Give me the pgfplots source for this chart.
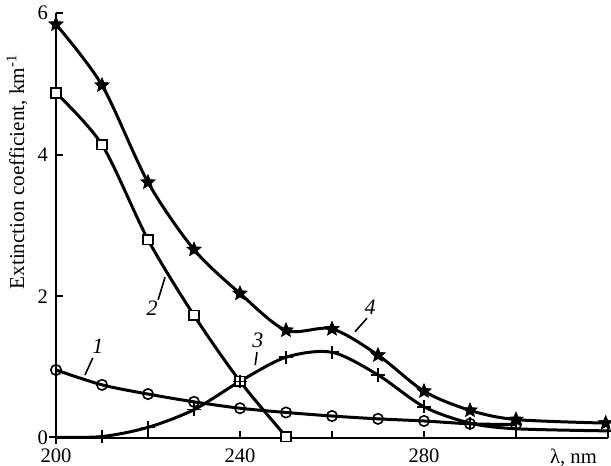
\documentclass[border=0pt]{standalone}
\usepackage{fontspec}
\setmainfont{Liberation Serif}
\usepackage{pgfplots}
\pgfplotsset{compat=1.18}
\pgfdeclareplotmark{fstar}{%
  \pgfpathmoveto{\pgfpointpolar{90}{\pgfplotmarksize}}%
  \pgfpathlineto{\pgfpointpolar{126}{0.45\pgfplotmarksize}}%
  \pgfpathlineto{\pgfpointpolar{162}{\pgfplotmarksize}}%
  \pgfpathlineto{\pgfpointpolar{198}{0.45\pgfplotmarksize}}%
  \pgfpathlineto{\pgfpointpolar{234}{\pgfplotmarksize}}%
  \pgfpathlineto{\pgfpointpolar{270}{0.45\pgfplotmarksize}}%
  \pgfpathlineto{\pgfpointpolar{306}{\pgfplotmarksize}}%
  \pgfpathlineto{\pgfpointpolar{342}{0.45\pgfplotmarksize}}%
  \pgfpathlineto{\pgfpointpolar{18}{\pgfplotmarksize}}%
  \pgfpathlineto{\pgfpointpolar{54}{0.45\pgfplotmarksize}}%
  \pgfpathclose
  \pgfusepathqfillstroke}
\begin{document}
\fontsize{10}{12}\selectfont
\begin{tikzpicture}
\begin{axis}[
 scale only axis, width=276pt, height=212.5pt,
 xmin=200, xmax=320, ymin=0, ymax=6,
 axis x line=bottom, axis y line=left,
 axis line style={-, line width=1.1pt},
 tick align=inside, major tick length=3.5pt,
 tick style={line width=1.1pt, black},
 xtick={200,220,...,320}, xticklabels={200,,240,,280,,},
 ytick={0,2,4,6},
 clip=false,
 /pgf/number format/assume math mode=true,
 tick label style={font=\fontsize{10.3}{12}\selectfont},
 xticklabel style={yshift=-2pt},
 yticklabel style={xshift=-0.5pt},
 every axis plot/.append style={line width=1.5pt, black, smooth},
]
\coordinate (sw) at (rel axis cs:0,0);
\coordinate (ne) at (rel axis cs:1,1);
% 1: circles
\addplot[mark=o, mark size=2.6pt, mark options={fill=white, line width=0.8pt}] coordinates {
(200,0.96) (210,0.75) (220,0.62) (230,0.51) (240,0.42) (250,0.36) (260,0.31) (270,0.27) (280,0.24) (290,0.20) (300,0.19)};
% 2: squares
\addplot[mark=square*, mark size=2.4pt, mark options={fill=white, line width=0.8pt}] coordinates {
(200,4.87) (210,4.14) (220,2.80) (230,1.73) (240,0.80) (250,0.02)};
% 3: plus
\addplot[mark=+, mark size=3.3pt, mark options={line width=0.8pt}] coordinates {
(200,0.01) (210,0.02) (220,0.15) (230,0.40) (240,0.80) (250,1.14) (260,1.21) (270,0.89) (280,0.44) (290,0.21) (300,0.13) (320,0.10)};
% 4: stars
\addplot[mark=fstar, mark size=3.8pt, mark options={line width=0.3pt, fill=black}] coordinates {
(200,5.84) (210,4.98) (220,3.61) (230,2.66) (240,2.04) (250,1.52) (260,1.54) (270,1.17) (280,0.66) (290,0.39) (300,0.26) (319.5,0.21)};
% curve labels
\draw[line width=0.8pt] (axis cs:206.3,0.89) -- (axis cs:208.0,1.13);
\draw[line width=0.8pt] (axis cs:222.2,1.95) -- (axis cs:223.7,2.27);
\draw[line width=0.8pt] (axis cs:243.3,1.03) -- (axis cs:243.7,1.21);
\draw[line width=0.8pt] (axis cs:265.0,1.50) -- (axis cs:267.6,1.69);
\node[font=\itshape\fontsize{11}{12}\selectfont] at (axis cs:209.1,1.29) {1};
\node[font=\itshape\fontsize{11}{12}\selectfont] at (axis cs:220.9,1.83) {2};
\node[font=\itshape\fontsize{11}{12}\selectfont] at (axis cs:243.9,1.38) {3};
\node[font=\itshape\fontsize{11}{12}\selectfont] at (axis cs:268.3,1.84) {4};
\node[anchor=north, yshift=-2pt, font=\fontsize{10.3}{12}\selectfont] at (axis cs:312.5,0) {λ, nm};
\node[rotate=90, font=\fontsize{10.6}{12}\selectfont] at ([xshift=-19.5pt]rel axis cs:0,0.626) {Extinction coefficient, km\textsuperscript{-1}};
\end{axis}
\pgfresetboundingbox
\path ([shift={(-28pt,-14pt)}]sw) rectangle ([shift={(1.5pt,6.5pt)}]ne);
\end{tikzpicture}
\end{document}
